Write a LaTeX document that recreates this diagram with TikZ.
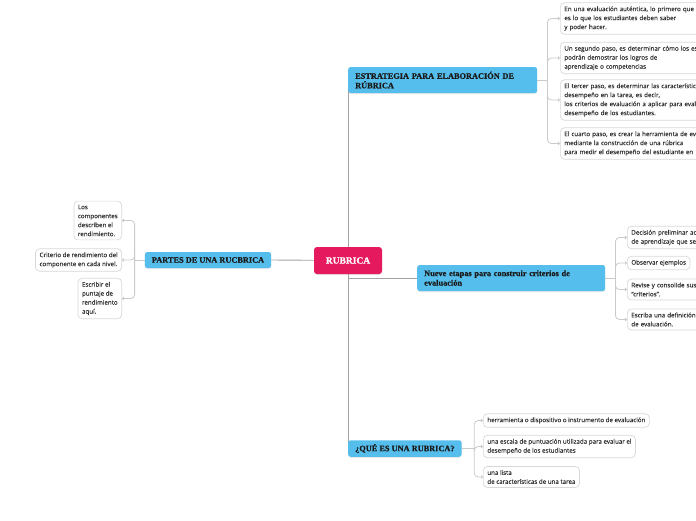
\documentclass[tikz,border=0pt]{standalone}
\usepackage{fontspec}
\setmainfont{Liberation Serif}[BoldFeatures={FakeBold=0.8}]
\newfontfamily\leaffont{Open Sans}[FakeBold=0.35]
\usetikzlibrary{arrows.meta,positioning,shadows,backgrounds}
\definecolor{ink}{HTML}{1A1A1A}
\definecolor{sky}{HTML}{56BEEC}
\definecolor{rose}{HTML}{E5195E}
\definecolor{trunkgray}{HTML}{A3A3A3}
\definecolor{twig}{HTML}{CACACA}
\definecolor{leafline}{HTML}{D8D8D8}
\definecolor{leaftext}{HTML}{333333}
\tikzset{
  root/.style={fill=rose,text=white,rounded corners=3pt,font=\bfseries\fontsize{9.5}{10}\selectfont,minimum width=68pt,minimum height=27pt,drop shadow={opacity=.18,shadow xshift=0pt,shadow yshift=-1pt}},
  topic/.style={fill=sky,text=ink,rounded corners=2.5pt,font=\bfseries\fontsize{8.3}{9.5}\selectfont,align=left,inner xsep=7pt,inner ysep=3pt,anchor=west,drop shadow={opacity=.18,shadow xshift=0pt,shadow yshift=-1pt}},
  leaf/.style={draw=leafline,fill=white,rounded corners=4pt,line width=.7pt,font=\leaffont\fontsize{6.2}{9}\selectfont,text=leaftext,align=left,inner xsep=4pt,inner ysep=3.6pt},
  trunk/.style={draw=trunkgray,line width=.9pt},
  twigline/.style={draw=twig,line width=.8pt,rounded corners=4pt,-{Straight Barb[length=1.4pt,width=3pt]}}
}
\begin{document}
\begin{tikzpicture}[x=1pt,y=-1pt]
  \useasboundingbox (0,0) rectangle (696,520);
  % center
  \node[root] (rub) at (348,260.5) {RUBRICA};

  % main topics
  \node[topic,text width=175pt,minimum height=26pt] (est) at (348,80) {ESTRATEGIA PARA ELABORACIÓN DE\\RÚBRICA};
  \node[topic,text width=174pt,minimum height=26pt] (nue) at (417,278) {Nueve etapas para construir criterios de\\evaluación};
  \node[topic,anchor=center,align=center,minimum width=126pt,minimum height=16pt] (par) at (208,260) {PARTES DE UNA RUCBRICA};
  \node[topic,align=center,minimum width=112pt,minimum height=16.5pt] (que) at (348,448.5) {¿QUÉ ES UNA RUBRICA?};

  % strategy steps (cut by the right edge)
  \node[leaf,anchor=west,text width=170pt] (e1) at (560,18.5) {En una evaluación auténtica, lo primero que\\es lo que los estudiantes deben saber\\y poder hacer.};
  \node[leaf,anchor=west,text width=170pt] (e2) at (560,58) {Un segundo paso, es determinar cómo los estudiantes\\podrán demostrar los logros de\\aprendizaje o competencias};
  \node[leaf,anchor=west,text width=170pt] (e3) at (560,100) {El tercer paso, es determinar las características\\desempeño en la tarea, es decir,\\los criterios de evaluación a aplicar para evaluar\\desempeño de los estudiantes.};
  \node[leaf,anchor=west,text width=170pt] (e4) at (560,143.5) {El cuarto paso, es crear la herramienta de evaluación\\mediante la construcción de una rúbrica\\para medir el desempeño del estudiante en};

  % nine stages
  \node[leaf,anchor=west,text width=100pt] (n1) at (627,237.5) {Decisión preliminar acerca\\de aprendizaje que se};
  \node[leaf,anchor=west] (n2) at (627,263) {Observar ejemplos};
  \node[leaf,anchor=west,text width=100pt] (n3) at (627,289.5) {Revise y consolide sus\\“criterios”.};
  \node[leaf,anchor=west,text width=100pt] (n4) at (627,319.5) {Escriba una definición\\de evaluación.};

  % parts
  \node[leaf,anchor=east] (p1) at (122,220.5) {Los\\componentes\\describen el\\rendimiento.};
  \node[leaf,anchor=east] (p2) at (122,260) {Criterio de rendimiento del\\componente en cada nivel.};
  \node[leaf,anchor=east] (p3) at (122,298.5) {Escribir el\\puntaje de\\rendimiento\\aquí.};

  % what is it
  \node[leaf,anchor=west] (q1) at (483,420.5) {herramienta o dispositivo o instrumento de evaluación};
  \node[leaf,anchor=west] (q2) at (483,446.5) {una escala de puntuación utilizada para evaluar el\\desempeño de los estudiantes};
  \node[leaf,anchor=west] (q3) at (483,477) {una lista\\de características de una tarea};

  \coordinate (estfork) at ([xshift=10pt]est.east);
  \coordinate (nuefork) at ([xshift=10pt]nue.east);
  \coordinate (parfork) at ([xshift=-10pt]par.west);
  \coordinate (quefork) at ([xshift=12.5pt]que.east);

  \begin{scope}[on background layer]
    \draw[trunk] (rub.center) |- (est.west);
    \draw[trunk] (rub.center) |- (nue.west);
    \draw[trunk] (rub.center) |- (que.west);
    \draw[trunk] (rub.center) -- (par.east);
    \draw[twig,line width=.8pt] (est.east) -- (estfork);
    \draw[twig,line width=.8pt] (nue.east) -- (nuefork);
    \draw[twig,line width=.8pt] (par.west) -- (parfork);
    \draw[twig,line width=.8pt] (que.east) -- (quefork);
    \foreach \k in {e1,e2,e3,e4} \draw[twigline] (estfork) |- (\k.west);
    \foreach \k in {n1,n2,n3,n4} \draw[twigline] (nuefork) |- (\k.west);
    \foreach \k in {p1,p2,p3} \draw[twigline] (parfork) |- (\k.east);
    \foreach \k in {q1,q2,q3} \draw[twigline] (quefork) |- (\k.west);
  \end{scope}
\end{tikzpicture}
\end{document}
